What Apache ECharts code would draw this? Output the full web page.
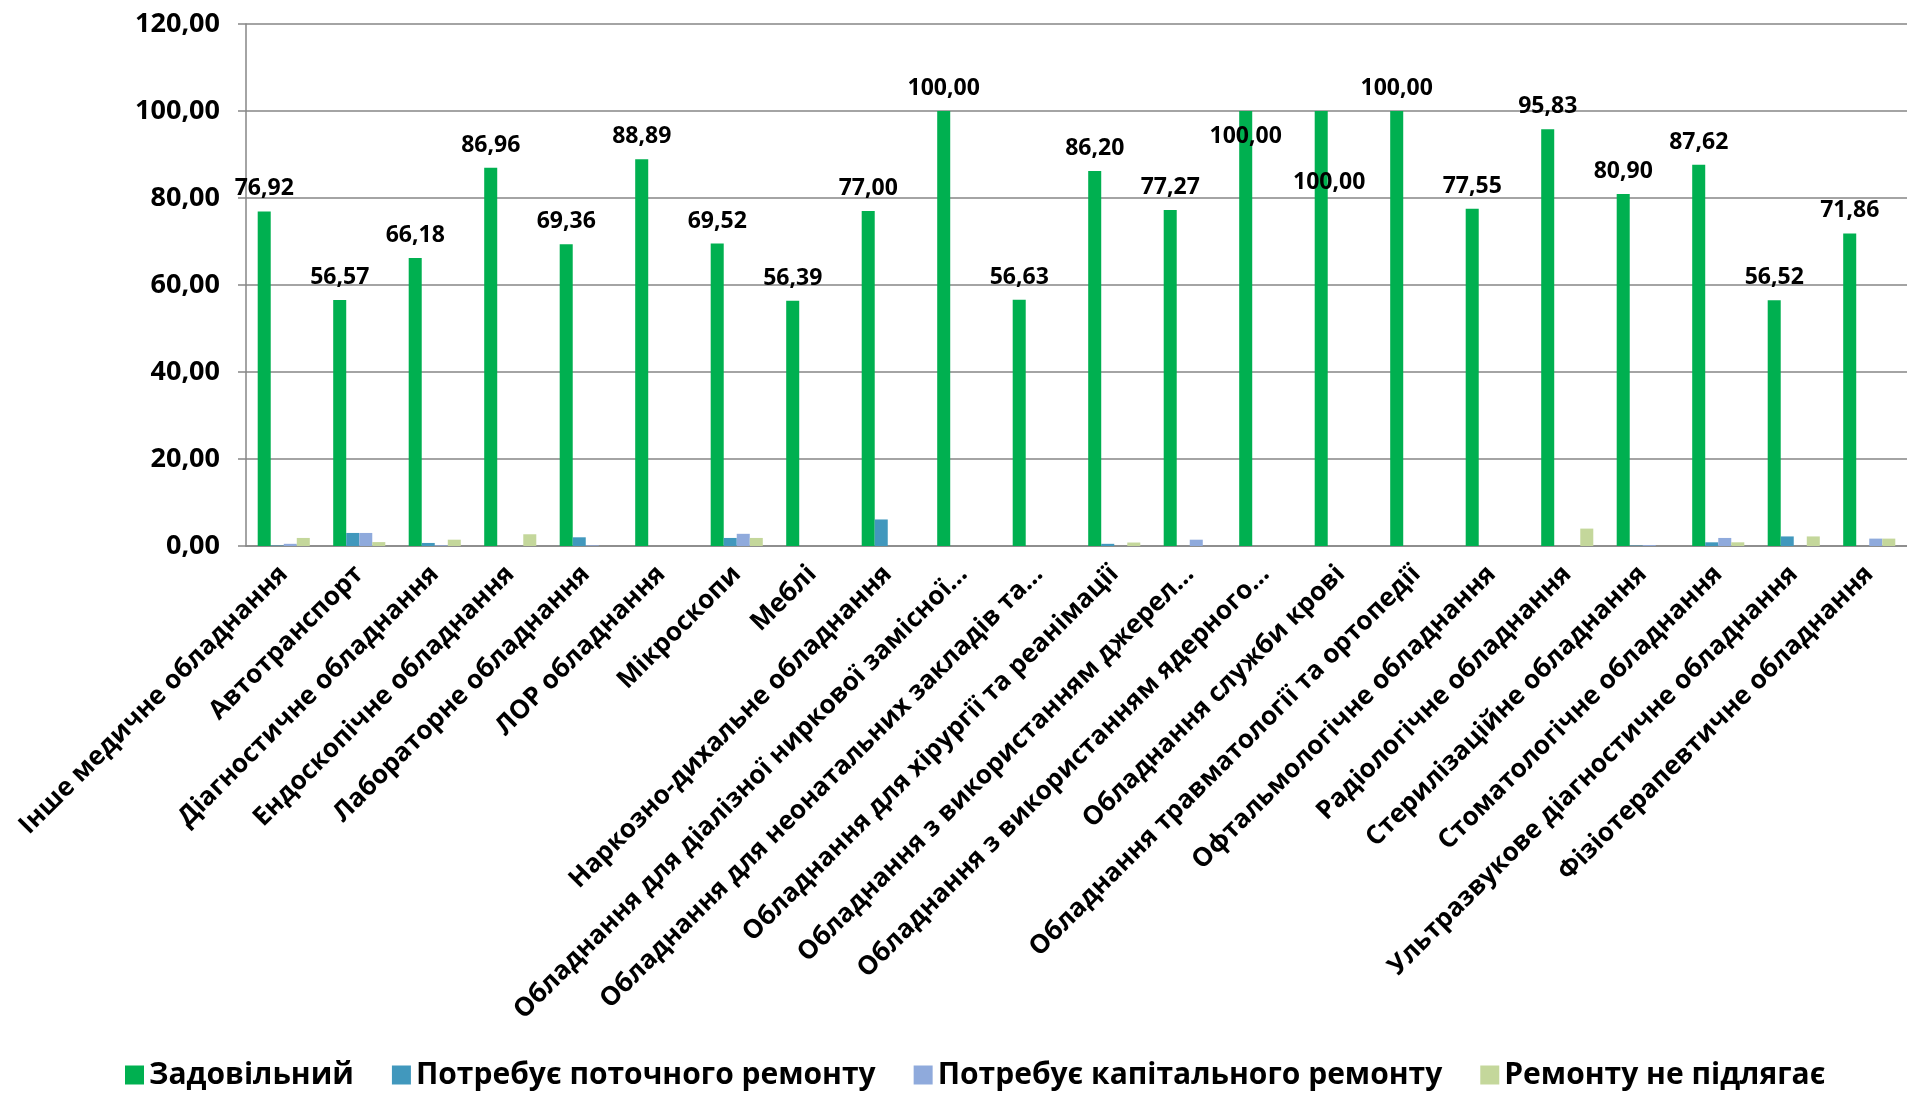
<!DOCTYPE html>
<html>
<head>
<meta charset="utf-8">
<script src="https://cdn.jsdelivr.net/npm/echarts@6/dist/echarts.min.js"></script>
<style>
  html, body { margin: 0; padding: 0; background: #fff; }
  #chart { width: 1907px; height: 1095px; }
</style>
</head>
<body>
<div id="chart"></div>
<script>
var categories = [
    'Інше медичне обладнання',
    'Автотранспорт',
    'Діагностичне обладнання',
    'Ендоскопічне обладнання',
    'Лабораторне обладнання',
    'ЛОР обладнання',
    'Мікроскопи',
    'Меблі',
    'Наркозно-дихальне обладнання',
    'Обладнання для діалізної ниркової замісної...',
    'Обладнання для неонатальних закладів та...',
    'Обладнання для хірургії та реанімації',
    'Обладнання з використанням джерел...',
    'Обладнання з використанням ядерного...',
    'Обладнання служби крові',
    'Обладнання травматології та ортопедії',
    'Офтальмологічне обладнання',
    'Радіологічне обладнання',
    'Стерилізаційне обладнання',
    'Стоматологічне обладнання',
    'Ультразвукове діагностичне обладнання',
    'Фізіотерапевтичне обладнання'
];

var seriesNames = ['Задовільний', 'Потребує поточного ремонту', 'Потребує капітального ремонту', 'Ремонту не підлягає'];

var satisfactory = [76.92, 56.57, 66.18, 86.96, 69.36, 88.89, 69.52, 56.39, 77.00, 100.00, 56.63,
    86.20, 77.27, 100.00, 100.00, 100.00, 77.55, 95.83, 80.90, 87.62, 56.52, 71.86];
var currentRepair = [0.1, 3.0, 0.7, 0, 2.0, 0, 1.85, 0, 6.1, 0, 0,
    0.5, 0, 0, 0, 0, 0, 0, 0.1, 0.85, 2.2, 0];
var capitalRepair = [0.5, 3.0, 0.15, 0, 0.15, 0, 2.8, 0, 0, 0, 0,
    0, 1.45, 0, 0, 0, 0, 0, 0.2, 1.85, 0, 1.7];
var notRepairable = [1.85, 0.9, 1.45, 2.7, 0, 0, 1.85, 0, 0, 0, 0,
    0.8, 0, 0, 0, 0, 0, 4.0, 0, 0.85, 2.2, 1.7];

var yTicks = { min: 0, max: 120, interval: 20 };

var colors = ['#00b050', '#4198bd', '#8faadc', '#c4d79b'];
var font = '"Open Sans", "Noto Sans", sans-serif';

// labels that were dragged by hand in the original
var labelShift = { 13: [0, 48], 14: [8, 94] };

function fmt(v) {
    return Number(v).toFixed(2).replace('.', ',');
}

var chart = echarts.init(document.getElementById('chart'));

var greenData = satisfactory.map(function (v, i) {
    var item = { value: v };
    if (labelShift[i]) {
        item.label = { offset: labelShift[i] };
    }
    return item;
});

var opts = {
    animation: false,
    color: colors,
    textStyle: { fontFamily: font, fontWeight: 'bold', color: '#000' },
    grid: { left: 246, right: 0, top: 24, bottom: 549, containLabel: false },
    legend: {
        left: 120,
        top: 1055,
        itemWidth: 19,
        itemHeight: 19,
        itemGap: 38,
        icon: 'rect',
        textStyle: { fontFamily: font, fontWeight: 'bold', fontSize: 30, color: '#000' },
        data: seriesNames
    },
    xAxis: {
        type: 'category',
        data: categories,
        axisLine: { lineStyle: { color: '#868686', width: 1.5 } },
        axisTick: { length: 8, lineStyle: { color: '#868686', width: 1.5 } },
        axisLabel: {
            interval: 0,
            rotate: 45,
            margin: 24,
            fontFamily: font,
            fontWeight: 'bold',
            fontSize: 26,
            color: '#000'
        }
    },
    yAxis: {
        type: 'value',
        min: yTicks.min,
        max: yTicks.max,
        interval: yTicks.interval,
        axisLine: { show: true, lineStyle: { color: '#868686', width: 1.5 } },
        axisTick: { show: true, length: 8, lineStyle: { color: '#868686', width: 1.5 } },
        splitLine: { lineStyle: { color: '#868686', width: 1.5 } },
        axisLabel: {
            margin: 26,
            fontFamily: font,
            fontWeight: 'bold',
            fontSize: 27,
            color: '#000',
            formatter: fmt
        }
    },
    series: [
        {
            name: seriesNames[0],
            type: 'bar',
            data: greenData,
            barGap: '0%',
            barCategoryGap: '31%',
            label: {
                show: true,
                position: 'top',
                distance: 11,
                fontFamily: font,
                fontWeight: 'bold',
                fontSize: 23,
                color: '#000',
                formatter: function (p) { return fmt(p.value); }
            }
        },
        { name: seriesNames[1], type: 'bar', data: currentRepair, barGap: '0%', barCategoryGap: '31%' },
        { name: seriesNames[2], type: 'bar', data: capitalRepair, barGap: '0%', barCategoryGap: '31%' },
        { name: seriesNames[3], type: 'bar', data: notRepairable, barGap: '0%', barCategoryGap: '31%' }
    ]
};

chart.setOption(opts);
</script>
</body>
</html>
